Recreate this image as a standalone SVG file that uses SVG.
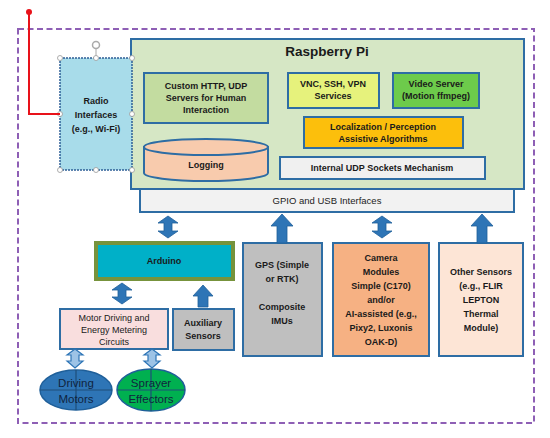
<svg xmlns="http://www.w3.org/2000/svg" width="550" height="438" viewBox="0 0 550 438">
<defs>
<style>
text{font-family:"Liberation Sans",Arial,sans-serif;font-weight:bold;fill:#1a1a1a;text-anchor:middle;}
.t{font-size:9px;}
.box{stroke:#2e6da4;stroke-width:2;}
.arr{fill:#2e75b6;stroke:#1f5f99;stroke-width:0.8;}
.arrl{fill:#9dc3e6;stroke:#2e75b6;stroke-width:1.2;}
.h{fill:#fff;stroke:#999;stroke-width:0.8;}
.ell{font-weight:normal;font-size:11.5px;fill:#10243e;}
</style>
</defs>
<rect width="550" height="438" fill="#fff"/>
<rect x="18" y="29" width="516" height="394" fill="none" stroke="#8e5fb5" stroke-width="2" stroke-dasharray="6,3.5"/>

<g id="rpi">
<rect class="box" x="131" y="39" width="393" height="150" fill="#d6e7c5"/>
<text x="327" y="56" style="font-size:13.5px">Raspberry Pi</text>
</g>
<g id="custom">
<rect class="box" x="144" y="73" width="124" height="50" fill="#c3dca0"/>
<text class="t" x="206" y="89">Custom HTTP, UDP</text>
<text class="t" x="206" y="101">Servers for Human</text>
<text class="t" x="206" y="113">Interaction</text>
</g>
<g id="logging">
<path class="box" d="M144,147 L144,173 A62,8 0 0 0 268,173 L268,147 Z" fill="#f8cbad"/>
<ellipse class="box" cx="206" cy="147" rx="62" ry="8" fill="#f8cbad"/>
<text class="t" x="206" y="168">Logging</text>
</g>
<g id="vnc">
<rect class="box" x="288" y="73" width="91" height="35" fill="#e6f27c"/>
<text class="t" x="333" y="87">VNC, SSH, VPN</text>
<text class="t" x="333" y="99">Services</text>
</g>
<g id="video">
<rect class="box" x="393" y="73" width="86" height="35" fill="#6dcb4b"/>
<text class="t" x="436" y="87">Video Server</text>
<text class="t" x="436" y="99">(Motion ffmpeg)</text>
</g>
<g id="loc">
<rect class="box" x="304" y="117" width="159" height="31" fill="#fcbf0c"/>
<text class="t" x="383" y="130">Localization / Perception</text>
<text class="t" x="383" y="142">Assistive Algorithms</text>
</g>
<g id="udp">
<rect class="box" x="280" y="157" width="205" height="22" fill="#f0f0f0"/>
<text class="t" x="382" y="171">Internal UDP Sockets Mechanism</text>
</g>
<g id="gpio">
<rect class="box" x="140" y="189" width="374" height="23" fill="#f2f2f2"/>
<text class="t" x="327" y="204" style="font-weight:normal;font-size:9.5px;fill:#222">GPIO and USB Interfaces</text>
</g>

<g id="radio">
<line x1="96" y1="46" x2="96" y2="58" stroke="#aaa" stroke-width="1"/>
<circle cx="96" cy="45" r="3.5" fill="#fff" stroke="#aaa" stroke-width="1.5"/>
<rect x="60" y="58" width="72" height="112" fill="#a8dcea" stroke="#2e5f96" stroke-width="1.5" stroke-dasharray="2,1"/>
<text class="t" x="96" y="104">Radio</text>
<text class="t" x="96" y="118">Interfaces</text>
<text class="t" x="96" y="132">(e.g., Wi-Fi)</text>
<circle class="h" cx="60" cy="58" r="2.5"/><circle class="h" cx="96" cy="58" r="2.5"/><circle class="h" cx="132" cy="58" r="2.5"/>
<circle class="h" cx="60" cy="114" r="2.5"/><circle class="h" cx="132" cy="114" r="2.5"/>
<circle class="h" cx="60" cy="170" r="2.5"/><circle class="h" cx="96" cy="170" r="2.5"/><circle class="h" cx="132" cy="170" r="2.5"/>
</g>

<g id="arduino">
<rect x="96" y="243" width="137" height="36" fill="#00b0c8" stroke="#77933c" stroke-width="4"/>
<text class="t" x="164" y="264">Arduino</text>
</g>
<g id="gps">
<rect class="box" x="243" y="243" width="79" height="113" fill="#bfbfbf"/>
<text class="t" x="282" y="268">GPS (Simple</text>
<text class="t" x="282" y="282">or RTK)</text>
<text class="t" x="282" y="310">Composite</text>
<text class="t" x="282" y="324">IMUs</text>
</g>
<g id="camera">
<rect class="box" x="333" y="243" width="96" height="113" fill="#f6b183"/>
<text class="t" x="381" y="261">Camera</text>
<text class="t" x="381" y="275">Modules</text>
<text class="t" x="381" y="289">Simple (C170)</text>
<text class="t" x="381" y="303">and/or</text>
<text class="t" x="381" y="317">AI-assisted (e.g.,</text>
<text class="t" x="381" y="331">Pixy2, Luxonis</text>
<text class="t" x="381" y="345">OAK-D)</text>
</g>
<g id="other">
<rect class="box" x="439" y="243" width="84" height="113" fill="#fde5d6"/>
<text class="t" x="481" y="275">Other Sensors</text>
<text class="t" x="481" y="289">(e.g., FLIR</text>
<text class="t" x="481" y="303">LEPTON</text>
<text class="t" x="481" y="317">Thermal</text>
<text class="t" x="481" y="331">Module)</text>
</g>
<g id="motor">
<rect class="box" x="60" y="309" width="108" height="40" fill="#f9dede" stroke-width="1.8"/>
<text class="t" x="114" y="321" style="font-weight:normal">Motor Driving and</text>
<text class="t" x="114" y="333" style="font-weight:normal">Energy Metering</text>
<text class="t" x="114" y="345" style="font-weight:normal">Circuits</text>
</g>
<g id="aux">
<rect class="box" x="173" y="309" width="61" height="41" fill="#bfbfbf" stroke-width="1.8"/>
<text class="t" x="203" y="326">Auxiliary</text>
<text class="t" x="203" y="339">Sensors</text>
</g>
<g id="driving">
<ellipse cx="76" cy="390" rx="36" ry="20" fill="#2e75b6" stroke="#1f5f99" stroke-width="1.5"/>
<line x1="40" y1="390" x2="112" y2="390" stroke="#1f4e79" stroke-width="1.2"/>
<line x1="76" y1="370" x2="76" y2="410" stroke="#1f4e79" stroke-width="1.2"/>
<text class="ell" x="76" y="387">Driving</text>
<text class="ell" x="76" y="403">Motors</text>
</g>
<g id="sprayer">
<ellipse cx="151" cy="390" rx="34" ry="21" fill="#00b050" stroke="#1f5f99" stroke-width="1.5"/>
<line x1="117" y1="390" x2="185" y2="390" stroke="#1f4e79" stroke-width="1.2"/>
<line x1="151" y1="369" x2="151" y2="411" stroke="#1f4e79" stroke-width="1.2"/>
<text class="ell" x="151" y="387">Sprayer</text>
<text class="ell" x="151" y="403">Effectors</text>
</g>

<g id="connectors">
<polyline points="29,12 29,114 60,114" fill="none" stroke="#e8121a" stroke-width="2"/>
<circle cx="29" cy="12" r="3" fill="#e8121a"/>
<path class="arr" d="M168,216 L178,223 L172,223 L172,231 L178,231 L168,238 L158,231 L164,231 L164,223 L158,223 Z"/>
<path class="arr" d="M282,214 L293,226 L287,226 L287,243 L277,243 L277,226 L271,226 Z"/>
<path class="arr" d="M382,216 L392,223 L386,223 L386,231 L392,231 L382,238 L372,231 L378,231 L378,223 L372,223 Z"/>
<path class="arr" d="M482,214 L493,226 L487,226 L487,243 L477,243 L477,226 L471,226 Z"/>
<path class="arr" d="M122,283 L132,290 L126,290 L126,297 L132,297 L122,304 L112,297 L118,297 L118,290 L112,290 Z"/>
<path class="arr" d="M203,285 L213,296 L208,296 L208,307 L198,307 L198,296 L193,296 Z"/>
<path class="arrl" d="M75,349 L83,355 L79,355 L79,361 L83,361 L75,368 L67,361 L71,361 L71,355 L67,355 Z"/>
<path class="arrl" d="M152,349 L160,355 L156,355 L156,361 L160,361 L152,368 L144,361 L148,361 L148,355 L144,355 Z"/>
</g>
</svg>
